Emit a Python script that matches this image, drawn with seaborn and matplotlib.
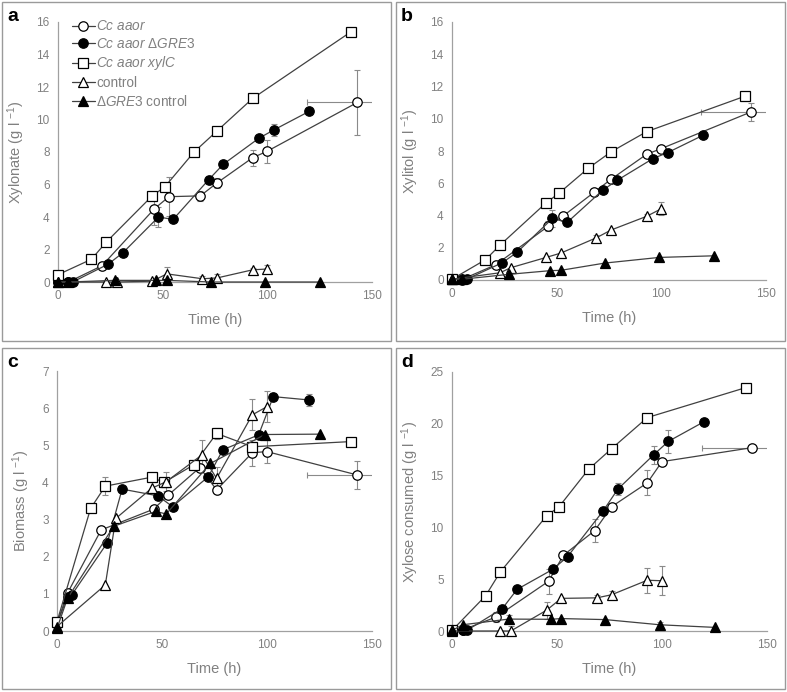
import numpy as np
import matplotlib
matplotlib.use("Agg")
import matplotlib.pyplot as plt
from matplotlib.patches import Rectangle
import seaborn as sns

# ==========================================
# Data
# ==========================================
# sampling times (h) for each strain
t_aaor = [0, 5, 21, 46, 53, 68, 76, 93, 100, 143]
t_gre3 = [0, 5, 7, 24, 31, 48, 55, 72, 79, 96, 103, 120]
t_xylc = [0, 16, 23, 45, 51, 65, 76, 93, 140]
t_ctrl = [0, 23, 28, 45, 52, 69, 76, 93, 100]
t_gctrl = [0, 5, 27, 47, 52, 73, 99, 125]

# horizontal error on the last Cc aaor point
aaor_last_xerr = 24

# a: xylonate (g/l)
xylonate_aaor = [0, 0, 1.0, 4.5, 5.25, 5.3, 6.1, 7.65, 8.05, 11.05]
xylonate_aaor_err = [0, 0, 0, 1.0, 1.2, 0.3, 0.3, 0.5, 0.7, 2.0]
xylonate_gre3 = [0, 0, 0, 1.1, 1.8, 4.0, 3.85, 6.3, 7.25, 8.85, 9.35, 10.5]
xylonate_gre3_err = [0, 0, 0, 0, 0, 0.6, 0, 0.2, 0, 0.15, 0.35, 0]
xylonate_xylc = [0.45, 1.4, 2.45, 5.3, 5.85, 8.0, 9.3, 11.3, 15.4]
xylonate_xylc_err = [0, 0, 0, 0, 0, 0, 0, 0, 0]
xylonate_ctrl = [0, 0, 0, 0.05, 0.5, 0.2, 0.25, 0.75, 0.8]
xylonate_ctrl_err = [0, 0, 0, 0, 0.45, 0.2, 0.25, 0.1, 0.25]
xylonate_gctrl = [0, 0, 0.1, 0.1, 0.1, 0, 0, 0]
xylonate_gctrl_err = [0, 0, 0, 0, 0, 0, 0, 0]

# b: xylitol (g/l)
xylitol_aaor = [0.05, 0.05, 0.95, 3.34, 3.96, 5.45, 6.25, 7.8, 8.15, 10.43]
xylitol_aaor_err = [0, 0, 0, 0.3, 0, 0, 0.25, 0.1, 0.1, 0.55]
xylitol_gre3 = [0.05, 0, 0.05, 1.07, 1.71, 3.82, 3.57, 5.57, 6.19, 7.53, 7.9, 8.98]
xylitol_gre3_err = [0, 0, 0, 0, 0, 0.55, 0, 0, 0, 0, 0, 0]
xylitol_xylc = [0.05, 1.26, 2.17, 4.79, 5.37, 6.92, 7.95, 9.2, 11.4]
xylitol_xylc_err = [0, 0, 0, 0, 0, 0, 0, 0, 0]
xylitol_ctrl = [0.05, 0.45, 0.76, 1.4, 1.67, 2.62, 3.1, 3.95, 4.42]
xylitol_ctrl_err = [0, 0, 0, 0, 0, 0.15, 0, 0.15, 0.4]
xylitol_gctrl = [0.05, 0.05, 0.35, 0.58, 0.6, 1.05, 1.4, 1.5]
xylitol_gctrl_err = [0, 0, 0, 0, 0, 0, 0, 0]

# c: biomass (g/l)
biomass_aaor = [0.2, 1.02, 2.72, 3.28, 3.66, 4.4, 3.8, 4.8, 4.83, 4.2]
biomass_aaor_err = [0, 0, 0.1, 0, 0, 0.1, 0, 0.35, 0.3, 0.37]
biomass_gre3 = [0.2, 0.92, 0.97, 2.38, 3.82, 3.64, 3.35, 4.15, 4.88, 5.28, 6.31, 6.22]
biomass_gre3_err = [0, 0, 0, 0.1, 0, 0.1, 0, 0, 0, 0, 0.1, 0.15]
biomass_xylc = [0.25, 3.3, 3.9, 4.14, 4.0, 4.47, 5.32, 4.96, 5.1]
biomass_xylc_err = [0, 0, 0.25, 0, 0, 0, 0.15, 0, 0]
biomass_ctrl = [0.12, 1.24, 3.03, 3.84, 4.02, 4.74, 4.11, 5.82, 6.04]
biomass_ctrl_err = [0, 0, 0, 0, 0.25, 0.4, 0.3, 0.42, 0.42]
biomass_gctrl = [0.07, 0.88, 2.82, 3.22, 3.15, 4.51, 5.29, 5.3]
biomass_gctrl_err = [0, 0, 0, 0, 0, 0, 0, 0]

# d: xylose consumed (g/l)
xylose_aaor = [0, 0.1, 1.35, 4.8, 7.3, 9.7, 12.0, 14.3, 16.35, 17.7]
xylose_aaor_err = [0, 0, 0.5, 1.2, 0, 1.1, 0, 1.2, 0, 0]
xylose_gre3 = [0, 0.1, 0.05, 2.17, 4.02, 5.95, 7.17, 11.6, 13.7, 17.0, 18.3, 20.2]
xylose_gre3_err = [0, 0, 0, 0, 0, 0.3, 0, 0, 0.6, 0.9, 1.1, 0]
xylose_xylc = [0.05, 3.4, 5.7, 11.1, 12.0, 15.6, 17.6, 20.6, 23.5]
xylose_xylc_err = [0, 0, 0, 0, 0, 0, 0, 0, 0]
xylose_ctrl = [0, 0, 0, 2.0, 3.15, 3.2, 3.5, 4.9, 4.85]
xylose_ctrl_err = [0, 0, 0.5, 0.8, 0, 0.3, 0.4, 1.2, 1.4]
xylose_gctrl = [0.05, 0.6, 1.15, 1.13, 1.2, 1.1, 0.6, 0.35]
xylose_gctrl_err = [0, 0, 0.4, 0, 0, 0, 0.3, 0]

labels = [r"$\mathit{Cc\ aaor}$",
          r"$\mathit{Cc\ aaor}\ \Delta\mathit{GRE3}$",
          r"$\mathit{Cc\ aaor\ xylC}$",
          "control",
          r"$\Delta\mathit{GRE3}$ control"]

# ==========================================
# Style
# ==========================================
sns.set_style("white")
plt.rcParams['font.family'] = ['Liberation Sans', 'DejaVu Sans']
plt.rcParams['mathtext.fontset'] = 'custom'
plt.rcParams['mathtext.rm'] = 'Liberation Sans'
plt.rcParams['mathtext.it'] = 'Liberation Sans:italic'

GREY = "#808080"
LINE = "#404040"

# marker, face colour, size for each strain
styles = [("o", "white", 6.8),
          ("o", "black", 6.8),
          ("s", "white", 7.8),
          ("^", "white", 7.0),
          ("^", "black", 7.0)]
times = [t_aaor, t_gre3, t_xylc, t_ctrl, t_gctrl]

panels = [
    ("a", "Xylonate (g l $^{-1}$)", 16, 2,
     [xylonate_aaor, xylonate_gre3, xylonate_xylc, xylonate_ctrl, xylonate_gctrl],
     [xylonate_aaor_err, xylonate_gre3_err, xylonate_xylc_err, xylonate_ctrl_err, xylonate_gctrl_err],
     [58, 22, 372, 282]),
    ("b", "Xylitol (g l $^{-1}$)", 16, 2,
     [xylitol_aaor, xylitol_gre3, xylitol_xylc, xylitol_ctrl, xylitol_gctrl],
     [xylitol_aaor_err, xylitol_gre3_err, xylitol_xylc_err, xylitol_ctrl_err, xylitol_gctrl_err],
     [452, 22, 766, 280]),
    ("c", "Biomass (g l $^{-1}$)", 7, 1,
     [biomass_aaor, biomass_gre3, biomass_xylc, biomass_ctrl, biomass_gctrl],
     [biomass_aaor_err, biomass_gre3_err, biomass_xylc_err, biomass_ctrl_err, biomass_gctrl_err],
     [57, 371, 372, 631]),
    ("d", "Xylose consumed (g l $^{-1}$)", 25, 5,
     [xylose_aaor, xylose_gre3, xylose_xylc, xylose_ctrl, xylose_gctrl],
     [xylose_aaor_err, xylose_gre3_err, xylose_xylc_err, xylose_ctrl_err, xylose_gctrl_err],
     [452, 372, 767, 631]),
]
boxes = {"a": (2, 2, 391, 341), "b": (396, 2, 785, 341),
         "c": (2, 348, 391, 689), "d": (396, 348, 785, 689)}

W, H = 787, 692
fig = plt.figure(figsize=(W / 100, H / 100), dpi=100)

for letter, ylab, ymax, ystep, values, errors, (l, t, r, b) in panels:
    ax = fig.add_axes([l / W, 1 - b / H, (r - l) / W, (b - t) / H])

    handles = []
    for i, (tt, vv, ee) in enumerate(zip(times, values, errors)):
        tt = np.array(tt, dtype=float)
        vv = np.array(vv, dtype=float)
        ee = np.array(ee, dtype=float)
        mk, fc, ms = styles[i]
        # error bars first so the markers sit on top
        nz = ee > 0
        if nz.any():
            ax.errorbar(tt[nz], vv[nz], yerr=ee[nz], fmt="none", ecolor="#8a8a8a",
                        elinewidth=0.8, capsize=2.5, capthick=0.8, zorder=1)
        if i == 0:
            ax.errorbar(tt[-1:], vv[-1:], xerr=aaor_last_xerr, fmt="none",
                        ecolor="#8a8a8a", elinewidth=0.8, capsize=2.5, capthick=0.8, zorder=1)
        sns.lineplot(x=tt, y=vv, ax=ax, color=LINE, linewidth=0.9,
                     marker=mk, markersize=ms, markerfacecolor=fc,
                     markeredgecolor="black", markeredgewidth=0.9,
                     estimator=None, sort=False, legend=False,
                     clip_on=False, zorder=3 + i * 0.1)
        handles.append(ax.lines[-1])

    ax.set_xlim(0, 150)
    ax.set_ylim(0, ymax)
    ax.set_xticks([0, 50, 100, 150])
    ax.set_yticks(np.arange(0, ymax + 0.01, ystep))
    ax.tick_params(direction="in", length=3, width=0.8, colors="#a0a0a0",
                   labelcolor=GREY, labelsize=8.5, pad=6)
    for side in ["top", "right"]:
        ax.spines[side].set_visible(False)
    for side in ["left", "bottom"]:
        ax.spines[side].set_color("#a0a0a0")
        ax.spines[side].set_linewidth(0.9)
    ax.set_xlabel("Time (h)", color=GREY, fontsize=10.5, labelpad=8)
    ax.set_ylabel(ylab, color=GREY, fontsize=10.5, labelpad=7)

    if letter == "a":
        ax.legend(handles, labels, loc="upper left", bbox_to_anchor=(0.044, 1.01),
                  frameon=False, fontsize=9.8, labelcolor=GREY, handlelength=1.7,
                  handletextpad=0.1, labelspacing=0.26, borderpad=0, borderaxespad=0)

    x0, y0, x1, y1 = boxes[letter]
    fig.patches.append(Rectangle((x0 / W, 1 - y1 / H), (x1 - x0) / W, (y1 - y0) / H,
                                 transform=fig.transFigure, fill=False,
                                 edgecolor="#9a9a9a", linewidth=1.0))
    fig.text((x0 + 5) / W, 1 - (y0 + 19) / H, letter, fontsize=14, fontweight="bold",
             color="black", va="baseline", ha="left")

plt.savefig("out.png", dpi=100)
